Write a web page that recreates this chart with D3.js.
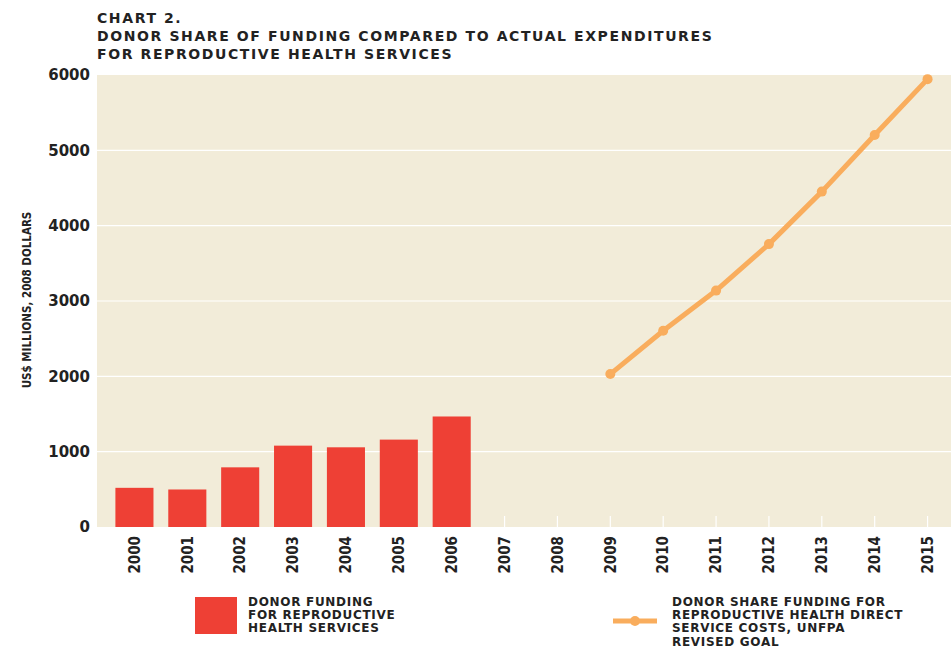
<!DOCTYPE html>
<html>
<head>
<meta charset="utf-8">
<script src="https://cdn.jsdelivr.net/npm/d3@7"></script>
<style>
  body { margin: 0; background: #fff; }
  svg { display: block; }
</style>
</head>
<body>
<div id="chart"></div>
<script>
const years = ['2000', '2001', '2002', '2003', '2004', '2005', '2006', '2007',
	'2008', '2009', '2010', '2011', '2012', '2013', '2014', '2015'];
const barYears = ['2000', '2001', '2002', '2003', '2004', '2005', '2006'];
const barValues = [520, 498, 792, 1080, 1058, 1160, 1467];
const lineYears = ['2009', '2010', '2011', '2012', '2013', '2014', '2015'];
const lineValues = [2030, 2605, 3138, 3755, 4452, 5203, 5945];
const yTicks = [0, 1000, 2000, 3000, 4000, 5000, 6000];

const w = 951;
const h = 648;

const wideFont = '"DejaVu Sans", sans-serif';
const narrowFont = '"Liberation Sans Narrow", "DejaVu Sans Condensed", sans-serif';

const svg = d3
	.select('#chart')
	.append('svg')
	.attr('width', w)
	.attr('height', h);

// plot area
const plot = {left: 97, right: 951, top: 75, bottom: 527};

const xScale = d3
	.scaleBand()
	.domain(years)
	.range([108, 954])
	.paddingInner(0.28)
	.paddingOuter(0.14);

const yScale = d3
	.scaleLinear()
	.domain([0, 6000])
	.range([plot.bottom, plot.top]);

svg
	.append('rect')
	.attr('x', plot.left)
	.attr('y', plot.top)
	.attr('width', plot.right - plot.left)
	.attr('height', plot.bottom - plot.top)
	.attr('fill', '#f2ecd9');

// gridlines
svg
	.append('g')
	.selectAll('line')
	.data(yTicks.filter(d => d > 0 && d < 6000))
	.enter()
	.append('line')
	.attr('x1', plot.left)
	.attr('x2', plot.right)
	.attr('y1', d => yScale(d))
	.attr('y2', d => yScale(d))
	.attr('stroke', '#fff')
	.attr('stroke-width', 1.2);

// small white ticks inside the plot
svg
	.append('g')
	.selectAll('line')
	.data(years)
	.enter()
	.append('line')
	.attr('x1', d => xScale(d) + xScale.bandwidth() / 2)
	.attr('x2', d => xScale(d) + xScale.bandwidth() / 2)
	.attr('y1', plot.bottom - 11)
	.attr('y2', plot.bottom)
	.attr('stroke', '#fff')
	.attr('stroke-width', 1.2);

// bars
svg
	.append('g')
	.selectAll('rect')
	.data(barYears)
	.enter()
	.append('rect')
	.attr('x', d => xScale(d))
	.attr('y', (d, i) => yScale(barValues[i]))
	.attr('width', xScale.bandwidth())
	.attr('height', (d, i) => yScale(0) - yScale(barValues[i]))
	.attr('fill', '#ee4035');

// line
const lineData = lineYears.map((d, i) => ({year: d, value: lineValues[i]}));
const line = d3
	.line()
	.x(d => xScale(d.year) + xScale.bandwidth() / 2)
	.y(d => yScale(d.value));

svg
	.append('path')
	.datum(lineData)
	.attr('d', line)
	.attr('fill', 'none')
	.attr('stroke', '#f9ad5d')
	.attr('stroke-width', 5)
	.attr('stroke-linejoin', 'round');

svg
	.append('g')
	.selectAll('circle')
	.data(lineData)
	.enter()
	.append('circle')
	.attr('cx', d => xScale(d.year) + xScale.bandwidth() / 2)
	.attr('cy', d => yScale(d.value))
	.attr('r', 5)
	.attr('fill', '#f9ad5d');

// y axis
const yAxis = d3
	.axisLeft(yScale)
	.tickValues(yTicks)
	.tickFormat(d3.format('d'))
	.tickSize(0)
	.tickPadding(7);
const yG = svg
	.append('g')
	.attr('transform', `translate(${plot.left}, 0)`)
	.call(yAxis);
yG.select('.domain').remove();
yG
	.selectAll('text')
	.style('font-family', wideFont)
	.style('font-weight', 'bold')
	.style('font-size', '15px')
	.attr('fill', '#222');

// x axis
const xAxis = d3.axisBottom(xScale).tickSize(0).tickPadding(0);
const xG = svg
	.append('g')
	.attr('transform', `translate(0, ${plot.bottom})`)
	.call(xAxis);
xG.select('.domain').remove();
xG
	.selectAll('text')
	.attr('transform', 'rotate(-90)')
	.attr('x', -9)
	.attr('y', 0)
	.attr('dy', '0.35em')
	.style('text-anchor', 'end')
	.style('font-family', narrowFont)
	.style('font-weight', 'bold')
	.style('font-size', '15px')
	.attr('fill', '#222');

// y label
svg
	.append('text')
	.attr('transform', 'translate(31, 300) rotate(-90)')
	.style('text-anchor', 'middle')
	.style('font-family', narrowFont)
	.style('font-weight', 'bold')
	.style('font-size', '11.5px')
	.attr('fill', '#222')
	.text('US$ MILLIONS, 2008 DOLLARS');

// title
const titleLines = [
	'CHART 2.',
	'DONOR SHARE OF FUNDING COMPARED TO ACTUAL EXPENDITURES',
	'FOR REPRODUCTIVE HEALTH SERVICES'
];
svg
	.append('g')
	.selectAll('text')
	.data(titleLines)
	.enter()
	.append('text')
	.attr('x', 97)
	.attr('y', (d, i) => 23 + i * 18)
	.style('font-family', wideFont)
	.style('font-weight', 'bold')
	.style('font-size', '14px')
	.style('letter-spacing', '1.6px')
	.attr('fill', '#222')
	.text(d => d);

// legend
const legendBarText = ['DONOR FUNDING', 'FOR REPRODUCTIVE', 'HEALTH SERVICES'];
const legendLineText = ['DONOR SHARE FUNDING FOR', 'REPRODUCTIVE HEALTH DIRECT',
	'SERVICE COSTS, UNFPA', 'REVISED GOAL'];

svg
	.append('rect')
	.attr('x', 195)
	.attr('y', 597)
	.attr('width', 42)
	.attr('height', 37)
	.attr('fill', '#ee4035');

svg
	.append('g')
	.selectAll('text')
	.data(legendBarText)
	.enter()
	.append('text')
	.attr('x', 248)
	.attr('y', (d, i) => 606 + i * 13.2)
	.style('font-family', wideFont)
	.style('font-weight', 'bold')
	.style('font-size', '12px')
	.style('letter-spacing', '0.7px')
	.attr('fill', '#222')
	.text(d => d);

svg
	.append('line')
	.attr('x1', 613)
	.attr('x2', 657)
	.attr('y1', 621)
	.attr('y2', 621)
	.attr('stroke', '#f9ad5d')
	.attr('stroke-width', 5);
svg
	.append('circle')
	.attr('cx', 635)
	.attr('cy', 621)
	.attr('r', 5)
	.attr('fill', '#f9ad5d');

svg
	.append('g')
	.selectAll('text')
	.data(legendLineText)
	.enter()
	.append('text')
	.attr('x', 672)
	.attr('y', (d, i) => 606 + i * 13.2)
	.style('font-family', wideFont)
	.style('font-weight', 'bold')
	.style('font-size', '12px')
	.style('letter-spacing', '0.7px')
	.attr('fill', '#222')
	.text(d => d);
</script>
</body>
</html>
